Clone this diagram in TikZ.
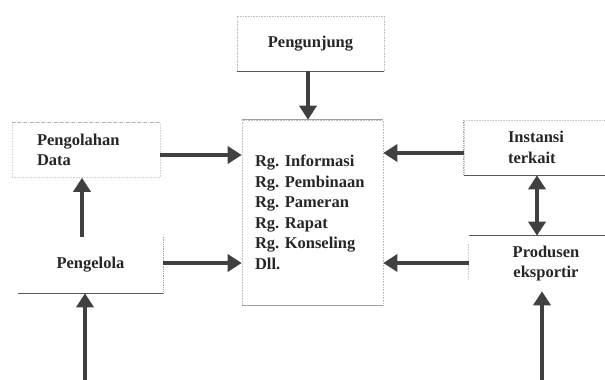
\documentclass[tikz,border=0pt]{standalone}
\usepackage{fontspec}
\setmainfont{Liberation Serif}
\usetikzlibrary{arrows.meta,calc}
\frenchspacing

\tikzset{
  kotak/.style={draw=gray!50, densely dotted, line width=0.6pt,
    minimum height=55pt, inner ysep=0pt,
    font=\bfseries\fontsize{16.5}{20.5}\selectfont, text=black!85},
  panah/.style={draw=black!75, line width=3.8pt,
    -{Triangle[width=17pt,length=14pt]}},
  duapanah/.style={draw=black!75, line width=3.8pt,
    {Triangle[width=17pt,length=14pt]}-{Triangle[width=17pt,length=14pt]}},
  tepi/.style={draw=black!65, line width=0.9pt}
}

\begin{document}
\begin{tikzpicture}[x=1pt,y=-1pt]
  \useasboundingbox (0,0) rectangle (605,380);

  \node[kotak, minimum width=147pt] (pengunjung) at (310.5,43.5) {Pengunjung};

  \node[kotak, minimum height=185pt, text width=115pt, align=left,
        inner xsep=13pt] (ruang) at (312.5,212.5)
    {Rg. Informasi\\ Rg. Pembinaan\\ Rg. Pameran\\ Rg. Rapat\\
     Rg. Konseling\\ Dll.};

  \node[kotak, draw=gray!35, text width=98pt, align=left, inner xsep=25pt]
    (pengolahan) at (86,150) {Pengolahan\\ Data};
  \node[kotak, draw=none, minimum width=145pt, minimum height=56pt]
    (pengelola) at (90.5,265) {Pengelola};

  \node[kotak, draw=gray!40, text width=57pt, align=left, inner xsep=44pt]
    (instansi) at (536.5,147.5) {Instansi\\ terkait};
  \node[kotak, draw=none, minimum width=154pt, text width=80pt, align=center]
    (produsen) at (546,263.5) {Produsen\\ eksportir};

  % garis tepi yang tegas
  \begin{scope}
    \draw[tepi] (pengunjung.south west) -- (pengunjung.south east);
    \draw[tepi, draw=gray!75] (ruang.north west) -- (ruang.north east);
    \draw[tepi, draw=gray!75] (ruang.south west) -- (ruang.south east);
    \draw[gray!65, dashed, line width=0.7pt]
      (pengolahan.north west) -- (pengolahan.north east);
    \draw[gray!70, densely dotted, line width=0.8pt]
      (pengelola.north east) -- (pengelola.south east);
    \draw[tepi] (pengelola.south west) -- (pengelola.south east);
    \draw[gray!70, densely dotted, line width=0.8pt]
      (instansi.north west) -- (instansi.south west);
    \draw[tepi] (instansi.south west) -- (instansi.south east);
    \draw[tepi] (produsen.north west) -- (produsen.north east);
    \draw[gray!40, densely dotted, line width=0.6pt]
      ([yshift=-8pt]produsen.north west) -- ([yshift=12pt]produsen.south west);
  \end{scope}

  \coordinate (bawahkiri) at (85,380);
  \coordinate (bawahkanan) at (542,380);

  \draw[panah] (pengunjung.south -| 308,0) -- (ruang.north -| 308,0);
  \draw[panah] (pengolahan.east |- 0,155) -- (ruang.west |- 0,155);
  \draw[panah] (pengelola.east |- 0,263) -- (ruang.west |- 0,263);
  \draw[panah] (pengelola.north -| 82,0) -- (pengolahan.south -| 82,0);
  \draw[panah] (bawahkiri) -- (bawahkiri |- pengelola.south);
  \draw[panah] (instansi.west |- 0,153) -- (ruang.east |- 0,153);
  \draw[panah] (produsen.west |- 0,263) -- (ruang.east |- 0,263);
  \draw[duapanah] (instansi.south -| 537,0) -- (produsen.north -| 537,0);
  \draw[panah] (bawahkanan) -- (bawahkanan |- produsen.south);
\end{tikzpicture}
\end{document}
